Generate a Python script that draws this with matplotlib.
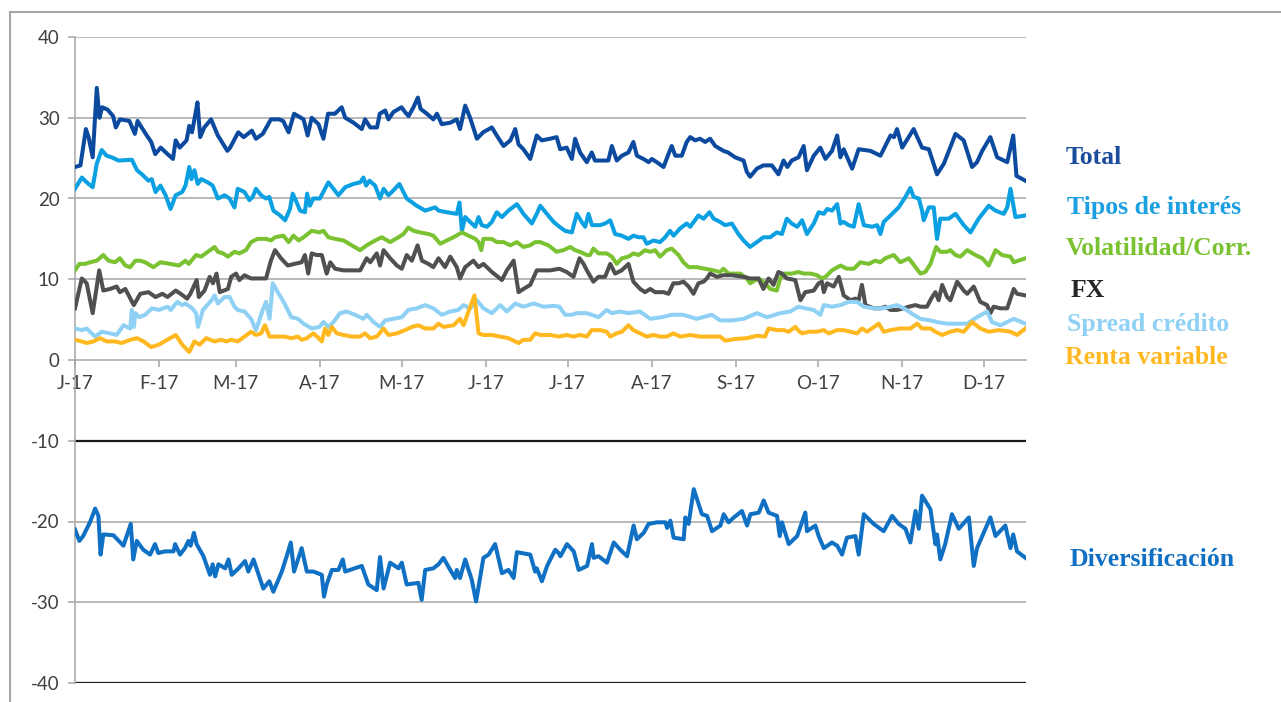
import matplotlib
matplotlib.use("Agg")
import matplotlib.pyplot as plt
from matplotlib.lines import Line2D

plt.rcParams["axes.unicode_minus"] = False

# (day of year, value)
total = [(0, 23.9), (2, 24.1), (4, 28.6), (5, 27.6), (6.5, 25.1), (8, 33.7), (9, 30.0), (10, 31.3), (12, 31.0),
         (14, 30.2), (15, 28.8), (16.5, 29.8), (20, 29.6), (22, 28.0), (23, 29.6), (26, 28.0), (28, 27.0),
         (29.5, 25.5), (31.5, 26.3), (34, 25.5), (36, 24.9), (37, 27.2), (38.5, 26.3), (41, 27.2), (42, 29.0),
         (43, 28.2), (44, 30.0), (45, 31.9), (46, 27.6), (47.5, 28.8), (50, 29.8), (52.5, 27.8), (56, 25.9),
         (57, 26.3), (60, 28.2), (62, 27.6), (65, 28.4), (66.5, 27.4), (69, 28.0), (72, 29.8), (75, 29.8),
         (76.5, 29.6), (78.5, 28.2), (80.5, 30.5), (84, 29.8), (85.5, 27.8), (87, 30.0), (89.5, 29.2),
         (91.3, 27.4), (93, 30.5), (95.5, 30.5), (98, 31.3), (99.3, 30.0), (102.3, 29.4), (105.4, 28.6),
         (106.6, 29.8), (108.5, 28.8), (111, 28.8), (112, 30.5), (114, 30.9), (115.2, 29.8), (117, 30.7),
         (119, 31.1), (120, 31.3), (121.3, 30.7), (122.6, 30.2), (124.4, 31.3), (126, 32.5), (127, 31.1),
         (129.3, 30.5), (131.7, 29.8), (133, 30.5), (134.8, 29.2), (138, 29.4), (140.3, 29.8), (141.5, 28.6),
         (143.4, 31.5), (145.2, 30.0), (147.7, 27.4), (150, 28.2), (153.2, 28.8), (155, 27.8), (157.5, 26.5),
         (160, 27.2), (161.8, 28.6), (163, 26.7), (164.8, 26.1), (167.3, 24.9), (169.7, 27.8), (171.5, 27.2),
         (174.6, 27.4), (177, 27.6), (178.3, 26.1), (180.7, 26.3), (182.6, 24.9), (183.8, 27.4), (185.6, 25.7),
         (188.1, 24.5), (189.9, 25.7), (191.1, 24.7), (194.2, 24.7), (196, 24.7), (197.3, 26.5), (199.1, 24.7),
         (201, 25.3), (203.4, 25.7), (205.2, 27.0), (206.5, 25.3), (208.9, 24.9), (210.8, 24.5), (212, 24.9),
         (213.8, 24.5), (216.3, 23.9), (218.1, 25.5), (219.3, 26.5), (220.6, 25.3), (223, 25.3), (224.8, 27.0),
         (226.1, 27.6), (227.9, 27.2), (229.7, 27.4), (231.6, 27.0), (233.4, 27.4), (235.3, 26.5), (238.3, 25.9),
         (240, 25.7), (242.6, 25.1), (245.7, 24.7), (246.9, 23.3), (248.1, 22.7), (250.6, 23.7), (253, 24.1),
         (256.1, 24.1), (258.5, 23.0), (260.4, 24.7), (261.8, 23.9), (263.4, 24.7), (265.9, 25.1), (267.8, 26.5),
         (269, 23.5), (271.5, 25.3), (273.9, 26.3), (275.8, 24.9), (278.2, 25.9), (280.1, 27.8), (281.3, 25.1),
         (282.5, 26.1), (285.6, 23.7), (288, 26.1), (292.3, 25.9), (296, 25.3), (299.7, 27.8), (301, 27.6),
         (302.1, 28.6), (304, 26.3), (308.2, 28.6), (311.3, 26.3), (313.8, 26.1), (316.8, 23.0), (319.3, 24.3),
         (323.6, 28.0), (326.6, 27.2), (329.7, 23.9), (331.5, 24.5), (333.4, 25.9), (336.4, 27.6), (338.9, 25.1),
         (342.6, 24.5), (344.8, 27.8), (346, 22.8), (349.3, 22.2)]

tipos = [(0, 21.2), (2.5, 22.6), (4.3, 22.0), (6.5, 21.4), (8, 24.3), (9.8, 26.0), (11.6, 25.3), (13.5, 25.1),
         (16, 24.7), (20.9, 24.8), (22.8, 23.5), (24.6, 23.0), (27, 22.2), (28.2, 22.4), (29.6, 20.8),
         (31.4, 21.6), (33.3, 20.4), (35.1, 18.7), (37, 20.4), (39.4, 20.8), (40.6, 21.6), (42, 23.9),
         (42.8, 22.4), (43.9, 23.5), (45.1, 21.8), (46.4, 22.4), (48.8, 22.0), (50.6, 21.6), (52.5, 20.0),
         (55, 20.4), (56.8, 20.0), (58.6, 18.9), (59.8, 21.2), (62.3, 20.8), (64.1, 19.8), (65.3, 20.2),
         (66.5, 21.2), (68.4, 20.4), (70.2, 20.0), (71.4, 20.2), (72.9, 18.5), (75.4, 17.9), (77.2, 17.3),
         (79, 18.7), (80, 20.6), (81.5, 19.5), (82.7, 18.5), (84.5, 18.3), (85.3, 20.6), (86.3, 19.1),
         (87.6, 20.0), (90, 20.0), (93.1, 22.0), (95, 21.2), (96.8, 20.4), (99.3, 21.4), (102.3, 21.8),
         (104.8, 22.0), (106, 22.6), (107, 21.6), (108.2, 22.2), (110.3, 21.6), (112.1, 20.0), (113.4, 21.2),
         (115.2, 20.4), (117, 21.0), (119.2, 21.8), (121.9, 20.0), (125.6, 19.1), (128.7, 18.5), (132.4, 18.9),
         (133.6, 18.5), (136.6, 18.3), (140.3, 18.1), (141.3, 19.5), (142.2, 16.0), (143.4, 17.7), (145.2, 17.1),
         (147.1, 16.5), (148.3, 17.7), (149.5, 16.7), (151.4, 16.5), (153.2, 17.1), (155, 18.3), (156.9, 17.7),
         (159.3, 18.5), (162.4, 19.3), (164.8, 18.1), (167.9, 16.9), (169.7, 18.1), (171, 19.1), (173.4, 18.1),
         (175.9, 17.1), (178, 16.5), (180.1, 16.0), (182.6, 15.8), (184.4, 18.1), (186.2, 17.1), (187.5, 16.5),
         (188.7, 18.1), (190, 16.7), (193, 16.7), (194.8, 16.9), (196.7, 17.3), (198.5, 15.6), (200.9, 15.4),
         (203.4, 15.0), (205.2, 15.4), (207.1, 15.2), (208.9, 15.2), (210.1, 14.4), (212.6, 14.8), (215, 14.6),
         (216.9, 15.2), (218.7, 16.0), (220, 15.4), (222.4, 16.3), (224.8, 16.9), (226.1, 16.5), (229.1, 17.9),
         (231, 17.5), (233.2, 18.3), (234.7, 17.5), (237.1, 17.1), (238.9, 16.7), (241.4, 16.9), (243.8, 15.6),
         (245.7, 14.8), (248.1, 14.0), (250.6, 14.6), (253, 15.2), (255.5, 15.2), (257.9, 15.8), (259.8, 15.6),
         (261.6, 17.5), (263.4, 16.9), (265.4, 16.5), (267.2, 17.3), (269, 15.6), (271.5, 16.9), (273.3, 18.3),
         (275.2, 18.1), (276.4, 18.7), (278.2, 18.5), (280.1, 19.3), (281.3, 16.9), (282.5, 17.1), (284.3, 16.7),
         (286.2, 16.5), (288, 19.3), (289.9, 16.7), (293, 16.5), (294.8, 16.7), (296, 15.6), (297.2, 17.1),
         (299.1, 17.7), (301.5, 18.5), (302.7, 18.9), (305.2, 20.2), (307, 21.3), (308.2, 20.2), (310.1, 20.0),
         (311.3, 18.5), (311.9, 17.3), (313.8, 18.9), (315.6, 18.9), (316.8, 15.0), (318, 17.5), (321.1, 17.5),
         (323.6, 18.1), (326.6, 16.7), (329.1, 15.8), (332.1, 17.5), (335.8, 19.1), (338.3, 18.5), (341.3, 18.1),
         (342.6, 18.9), (343.8, 21.2), (345.6, 17.7), (349.3, 17.9)]

volatilidad = [(0, 11.1), (1.6, 11.9), (3.7, 11.9), (5.5, 12.1), (8, 12.3), (10.4, 13.0), (12.3, 12.3),
               (14.7, 12.1), (16.5, 12.6), (18.5, 11.7), (20.3, 11.5), (22.2, 12.3), (24, 12.3), (25.8, 12.1),
               (28.8, 11.5), (31.4, 12.1), (35, 11.9), (38.2, 11.7), (40.6, 12.3), (41.8, 11.9), (44.5, 13.0),
               (46.4, 12.8), (48.8, 13.4), (51.3, 14.0), (52.5, 13.4), (54.4, 13.2), (56.2, 12.8), (58.6, 13.4),
               (60.4, 13.2), (62.8, 13.6), (64.7, 14.6), (67.1, 15.0), (70.2, 15.0), (72, 14.8), (73.5, 15.2),
               (76.6, 15.4), (78.5, 14.6), (80.3, 15.4), (82.2, 14.8), (84, 15.2), (87, 16.0), (89.8, 15.8),
               (91.3, 16.0), (93.1, 15.2), (95.6, 15.0), (98.7, 14.8), (101.7, 14.2), (104.8, 13.6), (107.2, 14.2),
               (110.3, 14.8), (112.7, 15.2), (115.8, 14.6), (118.9, 15.2), (120.7, 15.6), (122.5, 16.4),
               (124.4, 16.0), (126.8, 15.8), (129.9, 15.6), (131.7, 15.4), (134.2, 14.4), (136.6, 14.8),
               (139.1, 15.2), (142.2, 15.8), (144.6, 15.4), (147.1, 15.0), (148.3, 14.6), (149.3, 13.6),
               (150.1, 15.0), (153.2, 15.0), (155, 14.6), (157.5, 14.6), (160, 14.2), (162.4, 14.6), (164.8, 14.0),
               (167.3, 14.2), (169.1, 14.6), (171, 14.6), (174, 14.2), (177, 13.4), (179.5, 13.6), (182, 14.0),
               (183.8, 13.6), (185.6, 13.4), (188.1, 13.0), (189.3, 13.0), (190.5, 13.8), (192.4, 13.2),
               (195.4, 13.2), (197.3, 12.8), (199.1, 11.9), (201, 12.6), (203.4, 12.8), (205.2, 13.2),
               (207.1, 13.0), (209.5, 13.6), (211.4, 13.4), (213.2, 13.6), (215, 12.8), (217.5, 13.6),
               (219.3, 13.8), (221.8, 13.0), (223.6, 12.1), (225.5, 11.5), (228.5, 11.5), (231.6, 11.3),
               (234.6, 11.1), (237.1, 10.9), (238.3, 11.3), (240.2, 10.7), (244.5, 10.7), (246.9, 10.1),
               (248.1, 9.5), (251.2, 10.1), (253.6, 9.5), (255.5, 8.8), (257.9, 8.6), (259.2, 10.1), (260.4, 10.7),
               (263.4, 10.7), (265.9, 10.9), (267.8, 10.7), (270.3, 10.7), (272.7, 10.5), (274.5, 10.1),
               (275.8, 10.3), (278.2, 11.1), (281.3, 11.7), (283.7, 11.3), (286.2, 11.3), (288.6, 12.1),
               (291.7, 11.9), (294.1, 12.3), (296, 12.1), (297.8, 12.6), (300.9, 13.0), (303.3, 12.1),
               (306.4, 12.6), (308.9, 11.5), (310.7, 10.7), (312.5, 10.9), (314.4, 11.9), (316.5, 14.0),
               (318, 13.4), (320.5, 13.4), (321.7, 13.6), (323.6, 13.0), (325.4, 12.8), (327.9, 13.6),
               (330.9, 13.0), (333.4, 12.6), (335.8, 11.7), (338.3, 13.6), (340.7, 13.0), (343.8, 12.8),
               (345, 12.1), (349.3, 12.6)]

fx = [(0, 6.4), (2.5, 10.1), (4.3, 9.5), (6.5, 5.8), (8.9, 11.1), (10.4, 8.6), (12.9, 8.8), (15.3, 9.1),
      (16.5, 8.4), (18.5, 8.8), (21.6, 6.8), (24, 8.2), (27, 8.4), (29.6, 7.8), (32.1, 8.2), (34, 7.8),
      (37, 8.6), (38.8, 8.2), (41.2, 7.6), (42.4, 8.2), (44.7, 9.9), (45.5, 7.8), (47.6, 8.6), (49.5, 10.3),
      (50.7, 9.5), (52, 10.7), (53.2, 8.4), (56.2, 8.8), (57.4, 10.3), (59.2, 10.7), (60.4, 9.9), (62.3, 10.5),
      (64.7, 10.1), (67.1, 10.1), (70.2, 10.1), (72, 12.3), (73.5, 13.6), (75.7, 12.6), (78.2, 11.7),
      (80.6, 11.9), (83.3, 12.1), (84.5, 13.0), (85.7, 10.7), (87, 13.2), (88.8, 13.0), (90.7, 13.0),
      (92.5, 10.7), (93.8, 12.1), (95.6, 11.3), (98.7, 11.1), (104.8, 11.1), (107.2, 12.6), (108.5, 12.1),
      (110.9, 13.2), (112.1, 11.7), (113.4, 13.6), (115.8, 12.6), (118.3, 11.7), (120.1, 11.3), (121.9, 13.0),
      (123.8, 12.3), (125.9, 14.2), (127.5, 12.3), (129.9, 11.9), (131.7, 11.5), (133.6, 12.6), (136, 11.5),
      (137.9, 12.8), (140.3, 11.5), (141.5, 10.1), (143.4, 11.5), (146.4, 12.3), (148.3, 11.5), (150.1, 11.9),
      (153.2, 10.9), (156.9, 9.9), (158.7, 11.1), (161.2, 12.3), (163, 8.4), (164.8, 8.8), (167.3, 9.3),
      (169.7, 11.1), (174.6, 11.1), (178, 11.3), (180.7, 10.9), (183.2, 10.3), (185.4, 12.6), (186.9, 11.9),
      (188.1, 11.1), (190.5, 9.7), (192.4, 10.3), (194.8, 10.3), (196.7, 11.9), (198.5, 10.7), (200.9, 11.1),
      (203.4, 11.9), (205.2, 9.7), (207.7, 8.8), (209.5, 8.4), (211.4, 8.8), (213.2, 8.4), (216.3, 8.4),
      (218.1, 8.2), (219.9, 9.5), (221.8, 9.5), (223.6, 9.7), (225.5, 9.1), (227.3, 8.2), (229.1, 9.5),
      (231, 9.7), (232.2, 10.1), (233.4, 10.7), (235.9, 10.3), (238.3, 10.5), (241.4, 10.5), (245.7, 10.3),
      (248.1, 10.1), (251.2, 10.1), (253, 8.8), (254.9, 10.1), (256.7, 9.3), (258.5, 10.9), (259.8, 10.7),
      (261.6, 10.1), (264.7, 9.9), (266.6, 7.4), (268.4, 8.4), (271.5, 8.6), (273.3, 9.5), (274.5, 9.7),
      (275.2, 8.4), (276.4, 9.5), (278.8, 9.1), (280.7, 10.3), (282.5, 8.0), (285, 7.4), (286.8, 7.6),
      (288, 7.4), (289.2, 9.3), (290.5, 6.8), (293.5, 6.4), (296, 6.4), (297.8, 6.6), (299.7, 6.2),
      (302.1, 6.2), (304.6, 6.4), (306.4, 6.6), (308.9, 6.8), (310.7, 6.6), (313.1, 6.6), (315, 7.8),
      (316.2, 8.4), (317.4, 7.4), (318.7, 9.3), (320.5, 7.8), (321.7, 7.4), (324.2, 9.7), (326.6, 8.6),
      (327.9, 8.2), (330.3, 9.1), (332.7, 7.2), (335.2, 6.8), (336.4, 5.8), (337.6, 6.6), (340.1, 6.4),
      (342.6, 6.4), (345, 8.8), (346.2, 8.2), (349.3, 8.0)]

spread = [(0, 3.9), (2.5, 3.7), (4.3, 3.9), (7.4, 2.9), (9.8, 3.5), (12.9, 3.3), (15.3, 3.1), (17.8, 4.3),
          (20.3, 3.9), (20.9, 6.2), (21.6, 4.1), (22.2, 5.8), (23.6, 5.3), (25.8, 5.6), (28.3, 6.4), (30.8, 6.2),
          (34, 6.6), (35.2, 6.2), (37.6, 7.2), (39.4, 6.8), (40.6, 7.0), (43.1, 6.4), (44.5, 5.8), (45.2, 4.1),
          (47, 6.2), (50.2, 7.4), (51.3, 8.0), (52.5, 7.0), (55, 7.8), (56.8, 7.8), (58.6, 6.6), (59.8, 6.2),
          (62.3, 6.0), (64.7, 5.1), (66.5, 3.7), (69, 6.2), (70.2, 7.2), (71.5, 5.1), (72.7, 9.5), (74.5, 8.4),
          (77, 7.0), (79.5, 5.3), (81.9, 5.1), (84, 4.5), (87, 3.9), (89.8, 4.1), (91.3, 4.7), (93.1, 4.1),
          (95, 4.7), (97.4, 5.8), (99.9, 6.0), (102.9, 5.6), (106, 5.1), (107.2, 5.6), (109.7, 4.7),
          (112.1, 4.1), (114, 4.9), (117, 5.1), (120.1, 5.3), (122.5, 6.2), (125.6, 6.4), (128.7, 6.8),
          (131.7, 6.4), (134.8, 5.6), (137.9, 6.0), (140.9, 6.2), (142.8, 6.8), (145.2, 6.4), (147.7, 7.4),
          (150.1, 6.4), (153.2, 5.8), (156.3, 6.8), (158.7, 6.0), (161.8, 7.0), (164.8, 6.6), (168.5, 7.0),
          (172.2, 6.6), (176, 6.7), (178, 6.6), (180.1, 5.6), (182.6, 5.6), (184.4, 5.8), (188.1, 5.8),
          (192.4, 5.3), (195.4, 6.2), (197.3, 5.8), (200.3, 6.0), (203.4, 5.8), (207.7, 6.0), (211.4, 5.1),
          (215.7, 5.3), (219.3, 5.6), (223.6, 5.6), (228.5, 5.1), (234, 5.6), (237.1, 4.9), (241.4, 4.9),
          (245.7, 5.1), (250.6, 5.8), (254.3, 5.3), (259.2, 5.8), (262.8, 6.0), (265.9, 6.6), (268.4, 6.4),
          (271.5, 6.2), (273.9, 5.6), (275.2, 6.8), (278.2, 6.6), (281.3, 6.8), (284.3, 7.2), (287.4, 7.2),
          (289.9, 6.6), (293.5, 6.4), (296.6, 6.4), (299.7, 6.6), (302.1, 6.8), (304.6, 6.4), (308.2, 5.6),
          (310.7, 5.1), (314.4, 4.9), (316.8, 4.7), (320.5, 4.5), (324.2, 4.5), (327.9, 4.5), (331.5, 5.3),
          (335.2, 6.0), (337, 4.7), (340.1, 4.3), (342.6, 4.7), (345, 5.1), (349.3, 4.5)]

renta = [(0, 2.5), (2.5, 2.3), (4.3, 2.1), (6.8, 2.3), (9.2, 2.7), (11.6, 2.3), (14.7, 2.3), (17.1, 2.1),
         (20.3, 2.5), (22.8, 2.7), (25.2, 2.3), (28, 1.6), (30.8, 1.9), (33.9, 2.5), (37, 3.1), (39.4, 1.9),
         (42, 1.0), (43.9, 2.3), (45.8, 1.9), (48.2, 2.7), (51.3, 2.3), (53.7, 2.5), (55.6, 2.3), (57.4, 2.5),
         (59.8, 2.3), (62.3, 2.9), (64.7, 3.5), (66.5, 3.1), (68.4, 3.3), (69.8, 4.3), (71.5, 2.9), (74, 2.9),
         (77, 2.9), (79.5, 2.7), (81.9, 2.9), (83.3, 2.5), (85.2, 2.7), (87.6, 3.3), (89.6, 2.7), (90.7, 2.3),
         (91.9, 3.9), (93.1, 3.1), (94.4, 4.1), (96.2, 3.3), (98.7, 3.1), (101.7, 2.9), (104.8, 2.9),
         (106.6, 3.3), (108.5, 2.7), (110.9, 2.9), (113.4, 3.9), (115.2, 3.1), (118.3, 3.3), (121.3, 3.7),
         (123.8, 4.1), (126.2, 4.3), (128.7, 3.9), (131.7, 3.9), (133.6, 4.5), (135.4, 4.1), (139.1, 4.3),
         (141.5, 5.1), (142.8, 4.3), (144.6, 6.0), (146.8, 8.0), (148.3, 3.3), (150.1, 3.1), (153.2, 3.1),
         (156.3, 2.9), (159.3, 2.7), (163, 2.1), (164.8, 2.5), (167.3, 2.5), (169.1, 3.3), (171, 3.1),
         (174.6, 3.1), (177.7, 2.9), (180.7, 3.1), (183.2, 2.9), (185.6, 3.1), (188.1, 2.9), (189.9, 3.7),
         (193, 3.7), (195.4, 3.5), (196.7, 2.9), (199.1, 3.3), (201, 3.5), (203.4, 4.3), (205.2, 3.7),
         (207.7, 3.3), (210.1, 2.9), (212.6, 3.1), (215, 2.9), (217.5, 2.9), (219.9, 3.3), (222.4, 2.9),
         (226.1, 3.1), (229.7, 2.9), (233.4, 2.9), (237.1, 2.9), (238.9, 2.4), (242.6, 2.6), (246.9, 2.7),
         (250.6, 3.0), (253.6, 2.9), (254.9, 3.9), (257.9, 3.7), (260.4, 3.7), (262.3, 3.5), (264.7, 4.1),
         (266, 3.6), (267.2, 3.3), (269.6, 3.5), (272.7, 3.5), (275.2, 3.7), (277, 3.3), (280.1, 3.7),
         (282.5, 3.7), (285, 3.5), (287.4, 3.3), (289.2, 3.9), (291.1, 3.5), (295.4, 4.5), (297.2, 3.5),
         (299.7, 3.7), (303.3, 3.9), (307, 3.9), (309.5, 4.5), (311.3, 3.9), (314.4, 3.9), (316.2, 3.5),
         (318.7, 3.1), (321.7, 3.5), (324.2, 3.7), (326.6, 3.5), (329.7, 4.7), (332.7, 3.9), (335.8, 3.5),
         (339.5, 3.7), (343.8, 3.5), (346.2, 3.1), (349.3, 3.9)]

diversificacion = [(0, -21.0), (1.6, -22.4), (3, -21.8), (5.5, -20.1), (7.4, -18.4), (8.6, -19.3), (9.4, -24.1),
                   (10.4, -21.6), (14.1, -21.7), (17.8, -23.0), (20.5, -20.3), (21.4, -24.7), (22.7, -22.4),
                   (25.1, -23.5), (27.6, -24.1), (29.4, -22.8), (30.6, -23.9), (33.1, -23.7), (36.2, -23.7),
                   (36.8, -22.8), (38.6, -24.1), (40.4, -23.3), (41.7, -22.4), (42.5, -23.0), (43.7, -21.4),
                   (44.7, -22.8), (47.2, -24.3), (49.6, -26.6), (50.6, -25.3), (51.5, -26.8), (52.7, -25.3),
                   (55.2, -25.8), (56.4, -24.7), (57.6, -26.6), (60.1, -25.8), (62.5, -24.9), (63.7, -26.2),
                   (65.6, -24.7), (69.2, -28.3), (71.4, -27.4), (72.9, -28.7), (76, -26.2), (77.8, -24.3),
                   (79.3, -22.6), (80.5, -26.2), (83.3, -23.3), (85.2, -26.2), (87.6, -26.2), (90.7, -26.6),
                   (91.5, -29.3), (92.5, -27.8), (94.4, -26.0), (96.8, -26.0), (98.4, -24.7), (99.3, -26.2),
                   (105.4, -25.5), (107.8, -27.8), (110.9, -28.5), (112.1, -24.4), (113.4, -28.3), (115.8, -25.1),
                   (118.9, -25.8), (120.1, -25.1), (121.9, -27.8), (126.2, -27.6), (127.4, -29.7), (128.7, -26.0),
                   (131.7, -25.8), (133.6, -25.3), (135.4, -24.5), (137.9, -26.0), (139.7, -27.0), (140.3, -26.0),
                   (141.5, -27.0), (143.4, -24.7), (145.8, -27.2), (147.4, -29.9), (150.1, -24.5), (152, -24.1),
                   (154.4, -22.8), (156.9, -26.4), (159.3, -26.0), (161.2, -27.0), (162.4, -23.8), (167.3, -24.1),
                   (169.1, -26.2), (169.7, -25.8), (171.6, -27.4), (173.5, -25.5), (176.5, -23.5), (177.7, -23.9),
                   (178.4, -24.3), (180.8, -22.8), (183.3, -23.7), (185.1, -26.0), (188.2, -25.5), (190, -22.8),
                   (190.6, -24.5), (192.4, -24.3), (195.5, -25.1), (198, -22.6), (200.4, -23.5), (202.9, -24.3),
                   (205.3, -20.5), (206.5, -22.2), (209, -21.4), (210.8, -20.3), (213.9, -20.1), (217, -20.1),
                   (217.6, -20.8), (218.8, -19.9), (220, -22.0), (223.7, -22.2), (224.3, -19.5), (225.5, -20.3),
                   (227.4, -16.0), (230.4, -19.1), (232.3, -19.3), (234.1, -21.2), (237.2, -20.5), (238.4, -19.1),
                   (240.2, -20.1), (242.1, -19.5), (245.1, -18.7), (247, -20.5), (248.2, -19.1), (251.3, -18.9),
                   (253.1, -17.4), (254.9, -18.9), (258, -19.3), (259, -21.8), (259.8, -20.1), (262.3, -22.8),
                   (265.4, -21.8), (268.4, -18.9), (269, -21.2), (272.1, -20.5), (273.3, -21.8), (275.2, -23.3),
                   (278.2, -22.6), (280.1, -23.0), (281.9, -24.1), (283.7, -22.0), (286.8, -21.8), (288, -24.1),
                   (289.9, -19.1), (293.5, -20.3), (297.2, -21.2), (300.3, -19.3), (302.7, -20.3), (305.2, -20.9),
                   (307, -22.6), (308.9, -18.7), (310.1, -20.9), (311.3, -16.8), (314.4, -18.5), (316.2, -22.8),
                   (316.8, -21.6), (318, -24.7), (319.8, -22.8), (322.3, -19.1), (324.8, -20.9), (328.5, -19.5),
                   (330.3, -25.5), (331.5, -23.3), (336.4, -19.5), (338.3, -21.8), (341.9, -20.5), (343.8, -23.3),
                   (344.8, -21.6), (346.2, -23.7), (349.3, -24.5)]

month_starts = [0, 31, 59, 90, 120, 151, 181, 212, 243, 273, 304, 334]
month_labels = ["J-17", "F-17", "M-17", "A-17", "M-17", "J-17", "J-17", "A-17", "S-17", "O-17", "N-17", "D-17"]
y_ticks = [40, 30, 20, 10, 0, -10, -20, -30, -40]

series = [
    (total, "#0B4A9E", "Total", 1066, 164),
    (tipos, "#0AA0E2", "Tipos de interés", 1067, 214),
    (volatilidad, "#7AC231", "Volatilidad/Corr.", 1066, 255),
    (fx, "#505050", "FX", 1071, 297),
    (spread, "#8ED1F4", "Spread crédito", 1067, 331),
    (renta, "#FFB81F", "Renta variable", 1065, 364),
    (diversificacion, "#1070C4", "Diversificación", 1070, 566),
]
label_colors = {"FX": "#262626", "Total": "#1B4C9C", "Tipos de interés": "#1A9FE0"}

W, H = 1281, 702
fig = plt.figure(figsize=(W / 100, H / 100), dpi=100)
ax = fig.add_axes([75 / W, (H - 683) / H, (1026 - 75) / W, (683 - 37) / H])

grid_color = "#A6A6A6"
for y in y_ticks:
    if y == 0:
        continue
    if y in (-10, -40):
        ax.axhline(y, color="#1A1A1A", lw=1.6, zorder=1)
    else:
        ax.axhline(y, color=grid_color, lw=1.1, zorder=1)

for data, color, name, lx, ly in series:
    xs = [p[0] for p in data]
    ys = [p[1] for p in data]
    ax.plot(xs, ys, color=color, lw=2.9, solid_joinstyle="round", zorder=3)
    fig.text(lx / W, 1 - ly / H, name, color=label_colors.get(name, color),
             fontsize=18.5, fontweight="bold", family="Liberation Serif",
             ha="left", va="baseline")

ax.set_xlim(0, 349.5)
ax.set_ylim(-40, 40)
ax.set_yticks(y_ticks)
ax.set_xticks(month_starts)
ax.set_xticklabels(month_labels)

for side in ("top", "right"):
    ax.spines[side].set_visible(False)
ax.spines["bottom"].set_position(("data", 0))
ax.spines["bottom"].set_color(grid_color)
ax.spines["bottom"].set_linewidth(1.1)
ax.spines["left"].set_color(grid_color)
ax.spines["left"].set_linewidth(1.1)
ax.tick_params(axis="both", direction="out", length=5, width=1.1, color=grid_color,
               labelcolor="#404040", labelsize=13.5)
ax.tick_params(axis="y", pad=6)
ax.tick_params(axis="x", pad=6)
for lab in ax.get_xticklabels() + ax.get_yticklabels():
    lab.set_family("Lato")

# outer frame of the original picture
fig.add_artist(Line2D([10 / W, 1], [1 - 12 / H, 1 - 12 / H], color="#A6A6A6", lw=1.5))
fig.add_artist(Line2D([10 / W, 10 / W], [0, 1 - 12 / H], color="#A6A6A6", lw=1.5))

fig.savefig("out.png", dpi=100)
